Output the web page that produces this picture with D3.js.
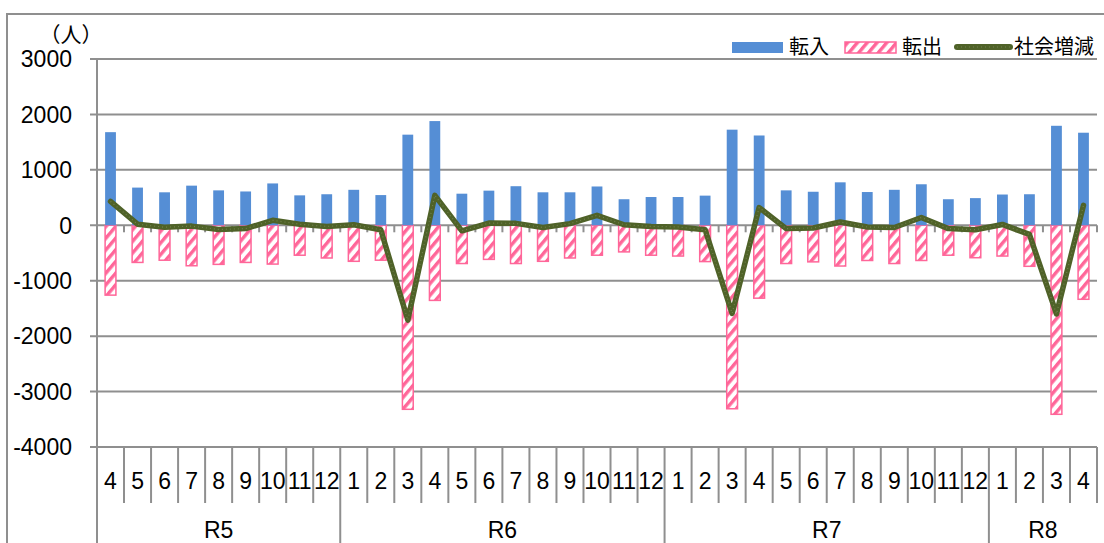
<!DOCTYPE html>
<html>
<head>
<meta charset="utf-8">
<script src="https://cdn.jsdelivr.net/npm/d3@7"></script>
<style>
  body { margin: 0; background: #fff; }
  svg { display: block; }
  .num { font-family: "Liberation Sans", Arial, sans-serif; fill: #000; }
  .jp { font-family: "Noto Sans CJK JP", sans-serif; fill: #000; }
</style>
</head>
<body>
<svg width="1104" height="543"></svg>
<script>
// months on the category axis, grouped by year
const months = ['4','5','6','7','8','9','10','11','12',
    '1','2','3','4','5','6','7','8','9','10','11','12',
    '1','2','3','4','5','6','7','8','9','10','11','12',
    '1','2','3','4'];
const yearLabels = ['R5', 'R6', 'R7', 'R8'];
const yearSpans = [9, 12, 12, 4];

// 転入 (in), 転出 (out), 社会増減 (net)
const tennyu = [1680, 680, 595, 715, 630, 610, 755, 540, 560,
    640, 545, 1635, 1880, 570, 625, 705, 595, 595, 700, 470, 510,
    510, 535, 1725, 1620, 630, 605, 775, 600, 640, 740, 470, 490,
    555, 560, 1795, 1670];
const tenshutsu = [-1260, -670, -630, -730, -705, -670, -700, -540, -590,
    -650, -630, -3320, -1355, -690, -615, -690, -650, -590, -540, -480, -540,
    -555, -655, -3310, -1315, -690, -660, -735, -635, -690, -635, -540, -585,
    -555, -740, -3410, -1335];
const shakai = [430, 20, -35, -15, -75, -60, 90, 20, -20,
    10, -80, -1710, 540, -100, 40, 35, -40, 30, 180, 10, -20,
    -30, -80, -1590, 320, -60, -50, 60, -30, -40, 140, -60, -80,
    15, -165, -1600, 360];

const yTicks = [3000, 2000, 1000, 0, -1000, -2000, -3000, -4000];
const legendNames = ['転入', '転出', '社会増減'];

const svg = d3.select('svg');
const plotL = 97, plotR = 1097, plotT = 59, plotB = 447;
const grey = '#8f8f8f';
const blue = '#558ed5', pink = '#ff6699', olive = '#4f6228';

const x = d3.scaleBand().domain(d3.range(months.length)).range([plotL, plotR]).padding(0);
const y = d3.scaleLinear().domain([-4000, 3000]).range([plotB, plotT]);
const bw = x.bandwidth() * 0.4;

// wide upward diagonal stripes for 転出
const defs = svg.append('defs');
const pat = defs.append('pattern')
    .attr('id', 'stripe')
    .attr('patternUnits', 'userSpaceOnUse')
    .attr('width', 7.5).attr('height', 7.5)
    .attr('patternTransform', 'rotate(40)');
pat.append('rect').attr('width', 7.5).attr('height', 7.5).attr('fill', '#fff');
pat.append('rect').attr('width', 3.4).attr('height', 7.5).attr('fill', pink);

// outer frame
svg.append('path')
    .attr('d', 'M7,543 L7,14 L1104,14')
    .attr('fill', 'none').attr('stroke', grey).attr('stroke-width', 2);

// gridlines + y ticks
svg.append('g').selectAll('line').data(yTicks).enter().append('line')
    .attr('x1', plotL - 7).attr('x2', plotR)
    .attr('y1', d => y(d)).attr('y2', d => y(d))
    .attr('stroke', grey).attr('stroke-width', 2);

svg.append('g').selectAll('text').data(yTicks).enter().append('text')
    .attr('class', 'num')
    .attr('x', 72).attr('y', d => y(d))
    .attr('dy', '0.36em')
    .attr('text-anchor', 'end')
    .attr('font-size', 23)
    .text(d => d);

svg.append('text').attr('class', 'jp')
    .attr('x', 71).attr('y', 35).attr('dy', '0.35em')
    .attr('text-anchor', 'middle').attr('font-size', 21)
    .text('（人）');

// y axis line, runs through the category table
svg.append('line')
    .attr('x1', plotL).attr('x2', plotL).attr('y1', plotT).attr('y2', 543)
    .attr('stroke', grey).attr('stroke-width', 2);

// bars
svg.append('g').selectAll('rect').data(tenshutsu).enter().append('rect')
    .attr('x', (d, i) => x(i) + (x.bandwidth() - bw) / 2)
    .attr('y', y(0))
    .attr('width', bw)
    .attr('height', d => y(d) - y(0))
    .attr('fill', 'url(#stripe)')
    .attr('stroke', pink).attr('stroke-width', 1.5);

svg.append('g').selectAll('rect').data(tennyu).enter().append('rect')
    .attr('x', (d, i) => x(i) + (x.bandwidth() - bw) / 2)
    .attr('y', d => y(d))
    .attr('width', bw)
    .attr('height', d => y(0) - y(d))
    .attr('fill', blue);

// zero axis tick marks
const bounds = d3.range(months.length + 1).map(i => plotL + i * x.bandwidth());
svg.append('g').selectAll('line').data(bounds).enter().append('line')
    .attr('x1', d => d).attr('x2', d => d)
    .attr('y1', y(0)).attr('y2', y(0) + 7)
    .attr('stroke', grey).attr('stroke-width', 2);

// category table under the plot
svg.append('g').selectAll('line').data(bounds.slice(1)).enter().append('line')
    .attr('x1', d => d).attr('x2', d => d)
    .attr('y1', plotB).attr('y2', 503)
    .attr('stroke', grey).attr('stroke-width', 2);

svg.append('g').selectAll('text').data(months).enter().append('text')
    .attr('class', 'num')
    .attr('x', (d, i) => x(i) + x.bandwidth() / 2)
    .attr('y', 481).attr('dy', '0.36em')
    .attr('text-anchor', 'middle')
    .attr('font-size', 23)
    .text(d => d);

let acc = 0;
const yearPos = yearSpans.map(n => {
    const s = acc;
    acc += n;
    return { start: s, end: acc };
});
svg.append('g').selectAll('line').data(yearPos.slice(0, -1)).enter().append('line')
    .attr('x1', d => plotL + d.end * x.bandwidth()).attr('x2', d => plotL + d.end * x.bandwidth())
    .attr('y1', 503).attr('y2', 543)
    .attr('stroke', grey).attr('stroke-width', 2);

svg.append('g').selectAll('text').data(yearPos).enter().append('text')
    .attr('class', 'num')
    .attr('x', d => plotL + (d.start + d.end) / 2 * x.bandwidth())
    .attr('y', 530).attr('dy', '0.36em')
    .attr('text-anchor', 'middle')
    .attr('font-size', 23)
    .text((d, i) => yearLabels[i]);

// net line
const line = d3.line()
    .x((d, i) => x(i) + x.bandwidth() / 2)
    .y(d => y(d));

svg.append('path').datum(shakai)
    .attr('d', line)
    .attr('fill', 'none')
    .attr('stroke', olive).attr('stroke-width', 5.5)
    .attr('stroke-linejoin', 'round').attr('stroke-linecap', 'round');
svg.append('path').datum(shakai)
    .attr('d', line)
    .attr('fill', 'none')
    .attr('stroke', '#8a9a68').attr('stroke-width', 1.2)
    .attr('stroke-dasharray', '1 3').attr('opacity', 0.6);

// legend
const lg = svg.append('g');
lg.append('rect').attr('x', 732).attr('y', 42).attr('width', 51).attr('height', 11).attr('fill', blue);
lg.append('text').attr('class', 'jp').attr('x', 789).attr('y', 47).attr('dy', '0.36em')
    .attr('font-size', 20).text(legendNames[0]);
lg.append('rect').attr('x', 845).attr('y', 42).attr('width', 51).attr('height', 11)
    .attr('fill', 'url(#stripe)').attr('stroke', pink).attr('stroke-width', 1.5);
lg.append('text').attr('class', 'jp').attr('x', 902).attr('y', 47).attr('dy', '0.36em')
    .attr('font-size', 20).text(legendNames[1]);
lg.append('line').attr('x1', 957).attr('x2', 1010).attr('y1', 47).attr('y2', 47)
    .attr('stroke', olive).attr('stroke-width', 6).attr('stroke-linecap', 'round');
lg.append('line').attr('x1', 957).attr('x2', 1010).attr('y1', 47).attr('y2', 47)
    .attr('stroke', '#8a9a68').attr('stroke-width', 1.2)
    .attr('stroke-dasharray', '1 3').attr('opacity', 0.6);
lg.append('text').attr('class', 'jp').attr('x', 1014).attr('y', 47).attr('dy', '0.36em')
    .attr('font-size', 20).text(legendNames[2]);
</script>
</body>
</html>
